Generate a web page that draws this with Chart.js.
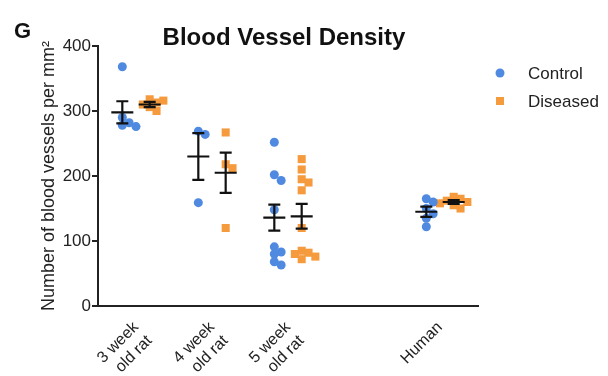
<!DOCTYPE html>
<html>
<head>
<meta charset="utf-8">
<script src="https://cdn.jsdelivr.net/npm/chart.js@4.4.1/dist/chart.umd.min.js"></script>
<style>
html, body { margin: 0; padding: 0; background: #fff; }
</style>
</head>
<body>
<canvas id="densityChart" width="608" height="376"></canvas>
<script>
// groups along the x axis (slot 3 is left empty, like the original)
const groupLabels = [['3 week', 'old rat'], ['4 week', 'old rat'], ['5 week', 'old rat'], 'Human'];
const groupSlots = [0, 1, 2, 4];

// individual values per group
const controlValues = [
    [368, 290, 282, 278, 276],
    [269, 264, 159],
    [252, 202, 193, 148, 91, 83, 80, 68, 63],
    [165, 160, 150, 142, 135, 122]
];
const diseasedValues = [
    [318, 316, 313, 310, 306, 300],
    [267, 218, 212, 120],
    [226, 210, 195, 190, 178, 120, 85, 82, 80, 76, 72],
    [168, 165, 162, 160, 158, 155, 150]
];

// mean +/- SEM
const controlMean = [298, 230, 136, 145];
const controlSem = [17, 36, 20, 8];
const diseasedMean = [310, 205, 138, 160];
const diseasedSem = [4, 31, 19, 3];

const yTicks = [0, 100, 200, 300, 400];

const blue = '#4f8ae0';
const orange = '#f59a3d';
const font = "'Liberation Sans', Arial, sans-serif";

// column scatter: nudge dots sideways when they would sit on top of each other
function spread(groups, side) {
    const pts = [];
    groups.forEach((vals, g) => {
        const placed = [];
        const step = 0.09;
        vals.forEach(v => {
            let dx = 0;
            for (const t of [0, 1, -1, 2, -2]) {
                const c = t * step;
                const hit = placed.some(p => Math.hypot((p.x - c) * 76, (p.y - v) * 0.65) < 7);
                if (!hit) { dx = c; break; }
            }
            placed.push({x: dx, y: v});
            pts.push({x: groupSlots[g] + side + dx, y: v});
        });
    });
    return pts;
}

const errorBars = {
    id: 'errorBars',
    afterDatasetsDraw(chart) {
        const {ctx, scales: {x, y}} = chart;
        ctx.save();
        ctx.strokeStyle = '#111';
        ctx.lineWidth = 2.2;
        const draw = (means, sems, side) => {
            means.forEach((m, i) => {
                const px = x.getPixelForValue(groupSlots[i] + side);
                const pm = y.getPixelForValue(m);
                const pt = y.getPixelForValue(m + sems[i]);
                const pb = y.getPixelForValue(m - sems[i]);
                ctx.beginPath();
                ctx.moveTo(px - 11, pm); ctx.lineTo(px + 11, pm);
                ctx.moveTo(px, pt); ctx.lineTo(px, pb);
                ctx.moveTo(px - 6, pt); ctx.lineTo(px + 6, pt);
                ctx.moveTo(px - 6, pb); ctx.lineTo(px + 6, pb);
                ctx.stroke();
            });
        };
        draw(controlMean, controlSem, -0.18);
        draw(diseasedMean, diseasedSem, 0.18);
        ctx.restore();
    }
};

const headings = {
    id: 'headings',
    afterDraw(chart) {
        const {ctx, chartArea} = chart;
        ctx.save();
        ctx.fillStyle = '#111';
        ctx.textBaseline = 'alphabetic';
        ctx.font = 'bold 22px ' + font;
        ctx.textAlign = 'left';
        ctx.fillText('G', 14, 38);
        ctx.font = 'bold 24px ' + font;
        ctx.textAlign = 'center';
        ctx.fillText('Blood Vessel Density', (chartArea.left + chartArea.right) / 2 - 4, 45);

        // legend
        ctx.fillStyle = blue;
        ctx.beginPath();
        ctx.arc(500, 73, 4.5, 0, Math.PI * 2);
        ctx.fill();
        ctx.fillStyle = orange;
        ctx.fillRect(496, 97, 8, 8);
        ctx.fillStyle = '#222';
        ctx.font = '17px ' + font;
        ctx.textAlign = 'left';
        ctx.textBaseline = 'middle';
        ctx.fillText('Control', 528, 74);
        ctx.fillText('Diseased', 528, 102);
        ctx.restore();
    }
};

new Chart(document.getElementById('densityChart'), {
    type: 'scatter',
    data: {
        datasets: [{
            label: 'Control',
            data: spread(controlValues, -0.18),
            pointStyle: 'circle',
            pointRadius: 4.5,
            backgroundColor: blue,
            borderWidth: 0
        }, {
            label: 'Diseased',
            data: spread(diseasedValues, 0.18),
            pointStyle: 'rect',
            pointRadius: 5.7,
            backgroundColor: orange,
            borderWidth: 0
        }]
    },
    options: {
        responsive: false,
        animation: false,
        layout: { padding: { left: 0, right: 130, top: 46, bottom: 0 } },
        plugins: {
            legend: { display: false },
            tooltip: { enabled: false }
        },
        scales: {
            x: {
                type: 'linear',
                min: -0.5,
                max: 4.5,
                afterBuildTicks: s => { s.ticks = groupSlots.map(v => ({value: v})); },
                afterFit: s => { s.height = 70; },
                ticks: {
                    autoSkip: false,
                    minRotation: 45,
                    maxRotation: 45,
                    padding: 4,
                    color: '#222',
                    font: { family: font, size: 16 },
                    callback: v => groupLabels[groupSlots.indexOf(v)]
                },
                grid: { display: false },
                border: { display: true, color: '#222', width: 2 }
            },
            y: {
                min: 0,
                max: 400,
                afterBuildTicks: s => { s.ticks = yTicks.map(v => ({value: v})); },
                afterFit: s => { s.width = 98; },
                ticks: {
                    padding: 1,
                    color: '#222',
                    font: { family: font, size: 17 }
                },
                grid: { display: true, drawOnChartArea: false, drawTicks: true, tickLength: 6, color: '#222', lineWidth: 2 },
                border: { display: true, color: '#222', width: 2 },
                title: {
                    display: true,
                    text: 'Number of blood vessels per mm²',
                    color: '#222',
                    font: { family: font, size: 18 },
                    padding: { top: 38, bottom: 0 }
                }
            }
        }
    },
    plugins: [errorBars, headings]
});
</script>
</body>
</html>
